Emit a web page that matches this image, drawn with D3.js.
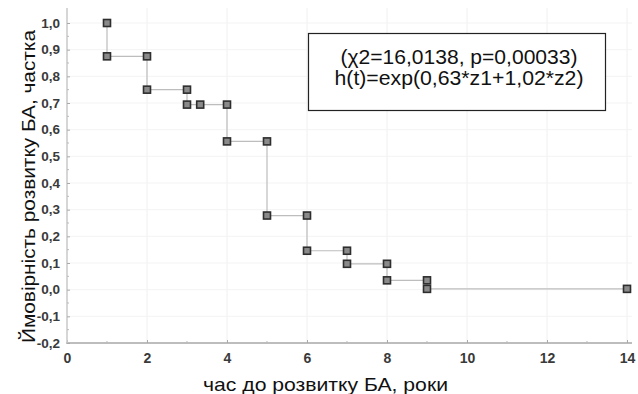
<!DOCTYPE html>
<html>
<head>
<meta charset="utf-8">
<script src="https://cdn.jsdelivr.net/npm/d3@7"></script>
<style>
  body { margin: 0; background: #fff; }
  text { font-family: Arial, "Liberation Sans", sans-serif; }
</style>
</head>
<body>
<div id="chart"></div>
<script>
// step points of the survival curve (time in years, probability)
const times = [1, 1, 2, 2, 3, 3, 3.33, 4, 4, 5, 5, 6, 6, 7, 7, 8, 8, 9, 9, 14];
const probs = [1.0, 0.875, 0.875, 0.75, 0.75, 0.694, 0.694, 0.694, 0.556, 0.556, 0.278, 0.278, 0.146, 0.146, 0.097, 0.097, 0.035, 0.035, 0.003, 0.003];
const xTicks = [0, 2, 4, 6, 8, 10, 12, 14];
const yTicks = [-0.2, -0.1, 0, 0.1, 0.2, 0.3, 0.4, 0.5, 0.6, 0.7, 0.8, 0.9, 1.0];
const noteLines = ["(χ2=16,0138, p=0,00033)", "h(t)=exp(0,63*z1+1,02*z2)"];

const W = 638, H = 394;
const svg = d3.select("#chart").append("svg")
  .attr("width", W).attr("height", H);

const x = d3.scaleLinear().domain([0, 14]).range([67, 627]);
const y = d3.scaleLinear().domain([-0.2, 1.0]).range([343, 23]);
const fmt = d => d3.format(".1f")(d).replace(".", ",").replace("−", "-");

// faint grid
svg.append("g").selectAll("line").data(xTicks.slice(1)).join("line")
  .attr("x1", d => x(d)).attr("x2", d => x(d))
  .attr("y1", 8).attr("y2", 343)
  .attr("stroke", "#f0f0f0");
svg.append("g").selectAll("line").data(yTicks.slice(1)).join("line")
  .attr("x1", 67).attr("x2", 632)
  .attr("y1", d => y(d)).attr("y2", d => y(d))
  .attr("stroke", "#f3f3f3");

// x axis
const xAxis = svg.append("g").attr("transform", `translate(0,${343})`)
  .call(d3.axisBottom(x).tickValues(xTicks).tickSize(-3).tickPadding(10).tickFormat(d3.format("d")));
xAxis.select(".domain").attr("stroke", "#bdbdbd").attr("stroke-width", 2)
  .attr("d", `M66,0H632`);
xAxis.selectAll(".tick line").attr("stroke", "#aaa");
xAxis.selectAll("text").attr("font-size", 14).attr("font-weight", "bold").attr("fill", "#3a3a3a");
// minor x ticks
svg.append("g").selectAll("line").data(d3.range(1, 14, 2)).join("line")
  .attr("x1", d => x(d)).attr("x2", d => x(d))
  .attr("y1", 343).attr("y2", 341).attr("stroke", "#bbb");

// y axis
const yAxis = svg.append("g").attr("transform", `translate(67,0)`)
  .call(d3.axisLeft(y).tickValues(yTicks).tickSize(-3).tickPadding(7).tickFormat(fmt));
yAxis.select(".domain").attr("stroke", "#c8c8c8").attr("stroke-width", 1.5)
  .attr("d", `M0,344V8`);
yAxis.selectAll(".tick line").attr("stroke", "#aaa");
yAxis.selectAll("text").attr("font-size", 13.5).attr("font-weight", "bold").attr("fill", "#3a3a3a");
svg.append("g").selectAll("line").data(d3.range(-0.15, 1.0, 0.1)).join("line")
  .attr("x1", 67).attr("x2", 69)
  .attr("y1", d => y(d)).attr("y2", d => y(d)).attr("stroke", "#bbb");

// step line
const pts = times.map((t, i) => [t, probs[i]]);
svg.append("path")
  .datum(pts)
  .attr("fill", "none")
  .attr("stroke", "#bdbdbd")
  .attr("stroke-width", 1.2)
  .attr("d", d3.line().x(d => x(d[0])).y(d => y(d[1])));

// markers
svg.append("g").selectAll("rect").data(pts).join("rect")
  .attr("x", d => x(d[0]) - 3.5).attr("y", d => y(d[1]) - 3.5)
  .attr("width", 7).attr("height", 7)
  .attr("fill", "#8a8a8a").attr("stroke", "#2e2e2e").attr("stroke-width", 1.6);

// annotation box
svg.append("rect")
  .attr("x", 308.5).attr("y", 33.5).attr("width", 297).attr("height", 77)
  .attr("fill", "#fff").attr("stroke", "#222").attr("stroke-width", 1.2);
const noteWidths = [237, 249];
svg.append("g").selectAll("text").data(noteLines).join("text")
  .attr("x", (d, i) => 459 - noteWidths[i] / 2).attr("y", (d, i) => 64 + i * 20.5)
  .attr("font-size", 20).attr("fill", "#111")
  .attr("textLength", (d, i) => noteWidths[i])
  .attr("lengthAdjust", "spacingAndGlyphs")
  .text(d => d);

// axis titles
svg.append("text")
  .attr("x", 203).attr("y", 391)
  .attr("font-size", 19).attr("fill", "#111")
  .attr("textLength", 245).attr("lengthAdjust", "spacingAndGlyphs")
  .text("час до розвитку БА, роки");
svg.append("text")
  .attr("transform", `translate(35,343) rotate(-90)`)
  .attr("font-size", 18).attr("fill", "#111")
  .attr("textLength", 313).attr("lengthAdjust", "spacingAndGlyphs")
  .text("Ймовірність розвитку БА, частка");
</script>
</body>
</html>
